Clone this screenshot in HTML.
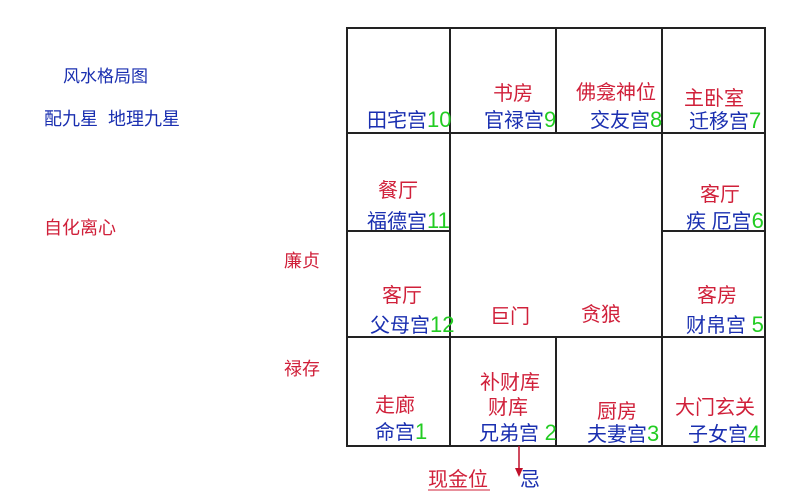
<!DOCTYPE html>
<html><head><meta charset="utf-8"><style>
body{margin:0;background:#fff;width:795px;height:500px;position:relative;overflow:hidden;font-family:"Liberation Sans","Noto Sans CJK SC",sans-serif}
.t{position:absolute;font-size:20px;line-height:22px;white-space:nowrap}
.r{color:#d0203a}.b{color:#1a2fb0}.g{color:#22cc22;font-size:22px}
.l{position:absolute;background:#222}
</style></head><body>
<div class="l" style="left:346px;top:27px;width:420px;height:2px"></div>
<div class="l" style="left:346px;top:445px;width:420px;height:2px"></div>
<div class="l" style="left:346px;top:27px;width:2px;height:420px"></div>
<div class="l" style="left:764px;top:27px;width:2px;height:420px"></div>
<div class="l" style="left:346px;top:132px;width:420px;height:2px"></div>
<div class="l" style="left:346px;top:336px;width:420px;height:2px"></div>
<div class="l" style="left:346px;top:230px;width:104px;height:2px"></div>
<div class="l" style="left:661px;top:230px;width:105px;height:2px"></div>
<div class="l" style="left:449px;top:27px;width:2px;height:420px"></div>
<div class="l" style="left:661px;top:27px;width:2px;height:420px"></div>
<div class="l" style="left:555px;top:27px;width:2px;height:106px"></div>
<div class="l" style="left:555px;top:336px;width:2px;height:110px"></div>

<div class="t b" style="left:63px;top:66px;font-size:17px">风水格局图</div>
<div class="t b" style="left:44px;top:108px;font-size:18px">配九星&nbsp;&nbsp;地理九星</div>
<div class="t r" style="left:44px;top:217px;font-size:18px">自化离心</div>
<div class="t r" style="left:284px;top:250px;font-size:18px">廉贞</div>
<div class="t r" style="left:284px;top:358px;font-size:18px">禄存</div>

<div class="t b" style="left:367px;top:109px">田宅宫<span class="g">10</span></div>
<div class="t r" style="left:493px;top:83px">书房</div>
<div class="t b" style="left:484px;top:109px">官禄宫<span class="g">9</span></div>
<div class="t r" style="left:576px;top:82px">佛龛神位</div>
<div class="t b" style="left:590px;top:109px">交友宫<span class="g">8</span></div>
<div class="t r" style="left:684px;top:88px">主卧室</div>
<div class="t b" style="left:689px;top:110px">迁移宫<span class="g">7</span></div>

<div class="t r" style="left:378px;top:180px">餐厅</div>
<div class="t b" style="left:367px;top:210px">福德宫<span class="g">11</span></div>
<div class="t r" style="left:700px;top:184px">客厅</div>
<div class="t b" style="left:686px;top:210px">疾 厄宫<span class="g">6</span></div>

<div class="t r" style="left:382px;top:285px">客厅</div>
<div class="t b" style="left:370px;top:314px">父母宫<span class="g">12</span></div>
<div class="t r" style="left:490px;top:306px">巨门</div>
<div class="t r" style="left:581px;top:304px">贪狼</div>
<div class="t r" style="left:697px;top:285px">客房</div>
<div class="t b" style="left:686px;top:314px">财帛宫 <span class="g">5</span></div>

<div class="t r" style="left:375px;top:395px">走廊</div>
<div class="t b" style="left:375px;top:421px">命宫<span class="g">1</span></div>
<div class="t r" style="left:480px;top:372px">补财库</div>
<div class="t r" style="left:488px;top:397px">财库</div>
<div class="t b" style="left:479px;top:422px">兄弟宫 <span class="g">2</span></div>
<div class="t r" style="left:597px;top:401px">厨房</div>
<div class="t b" style="left:587px;top:423px">夫妻宫<span class="g">3</span></div>
<div class="t r" style="left:675px;top:397px">大门玄关</div>
<div class="t b" style="left:688px;top:423px">子女宫<span class="g">4</span></div>

<svg style="position:absolute;left:0;top:0" width="795" height="500">
<line x1="519" y1="446" x2="519" y2="470" stroke="#c0102a" stroke-width="1.5"/>
<polygon points="515,468 523,468 519,477" fill="#c0102a"/>
<line x1="428" y1="490" x2="490" y2="490" stroke="#d0203a" stroke-width="1"/>
</svg>
<div class="t b" style="left:520px;top:469px">忌</div>
<div class="t r" style="left:428px;top:469px">现金位</div>
</body></html>
